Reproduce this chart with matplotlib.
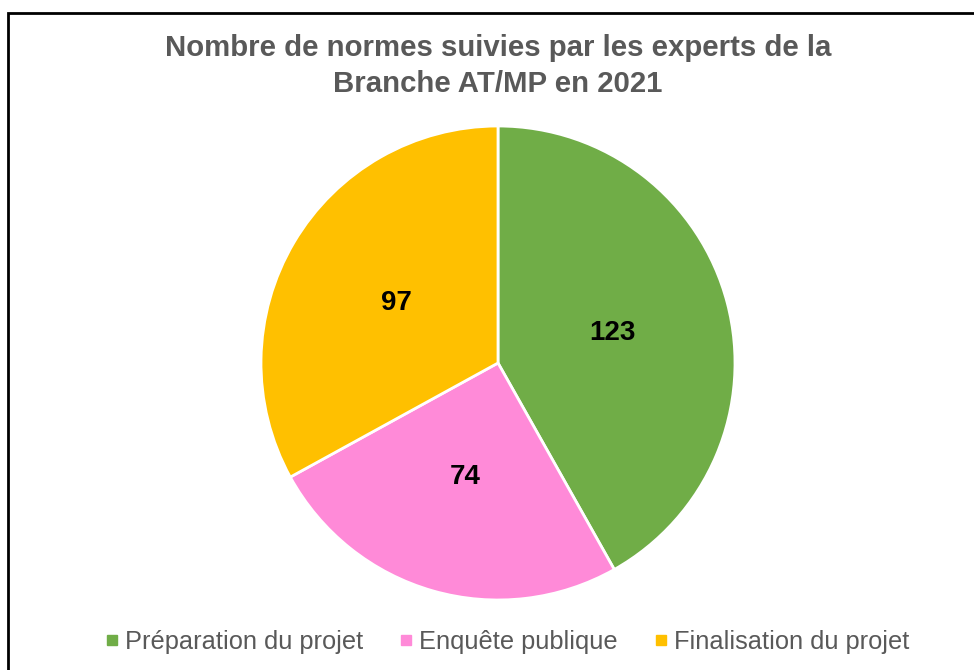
import matplotlib
matplotlib.use("Agg")
import matplotlib.pyplot as plt
from matplotlib.patches import Rectangle
from matplotlib.lines import Line2D

plt.rcParams['font.family'] = ['Liberation Sans', 'DejaVu Sans']

categories = ["Préparation du projet", "Enquête publique", "Finalisation du projet"]
values = [123, 74, 97]
colors = ["#70AD47", "#FF8AD8", "#FFC000"]
title = "Nombre de normes suivies par les experts de la\nBranche AT/MP en 2021"

W, H = 974, 670
fig = plt.figure(figsize=(W / 100, H / 100), dpi=100)

# border
fig.patches.append(Rectangle((7.5 / W, -0.1), 1.2, 1 - 13.5 / H + 0.1, transform=fig.transFigure,
                             fill=False, edgecolor="black", linewidth=2))

cx, cy, r = 498, 363, 237
ax = fig.add_axes([(cx - r) / W, (H - cy - r) / H, 2 * r / W, 2 * r / H])
wedges, texts = ax.pie(values, colors=colors, startangle=90, counterclock=False,
                       labels=[str(v) for v in values], labeldistance=0.5,
                       wedgeprops=dict(edgecolor="white", linewidth=2),
                       textprops=dict(fontsize=20, fontweight="bold", color="black",
                                      ha="center", va="center"))
ax.set_aspect("equal")
ax.set_xlim(-1, 1)
ax.set_ylim(-1, 1)

fig.text(cx / W, 1 - 66 / H, title, ha="center", va="center", fontsize=21.2,
         fontweight="bold", color="#595959", linespacing=1.33)

handles = [Line2D([], [], marker="s", linestyle="none", markersize=7,
                  markerfacecolor=c, markeredgecolor=c) for c in colors]
fig.legend(handles, categories, loc="center", bbox_to_anchor=(505 / W, 1 - 642 / H),
           ncol=3, frameon=False, fontsize=18.3, labelcolor="#595959",
           handletextpad=0.05, columnspacing=1.25, handlelength=0.9)

fig.savefig("out.png", dpi=100)
